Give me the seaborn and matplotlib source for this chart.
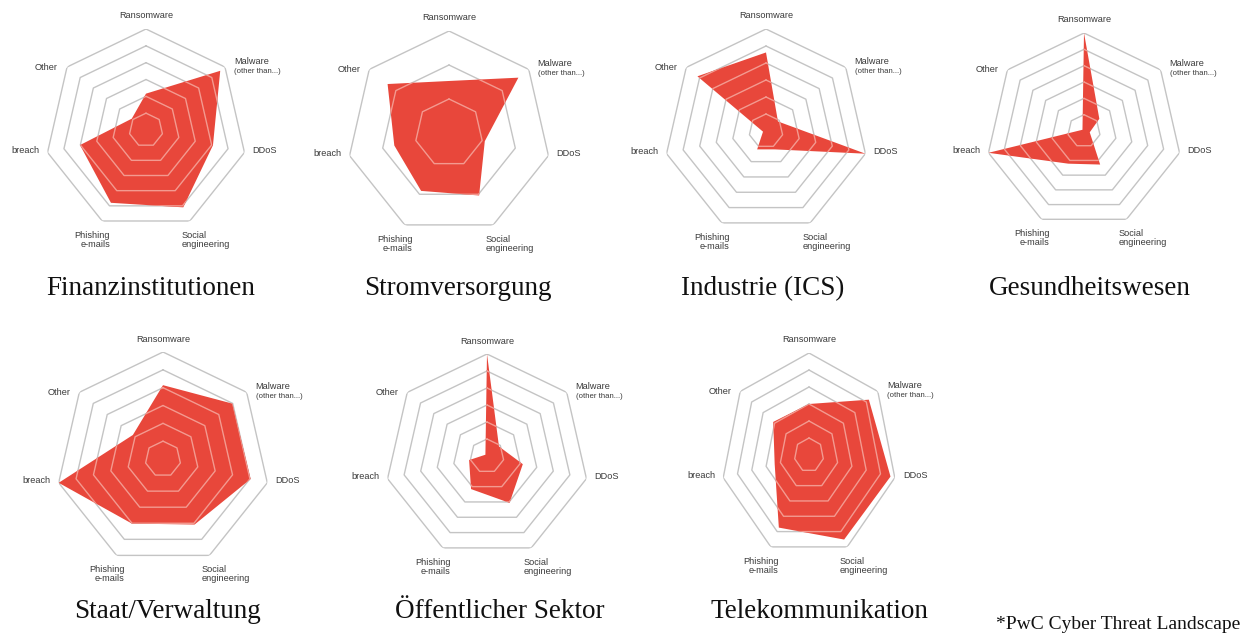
import matplotlib
matplotlib.use("Agg")
import matplotlib.pyplot as plt
import numpy as np
import seaborn as sns

# axis order, clockwise from the top
categories = ["Ransomware", "Malware", "DDoS", "Social\nengineering",
              "Phishing\ne-mails", "breach", "Other"]

# values, as fraction of the outer ring
finanz = [0.36, 0.94, 0.68, 0.85, 0.80, 0.67, 0.18]
strom = [0.51, 0.87, 0.36, 0.68, 0.63, 0.55, 0.77]
industrie = [0.77, 0.15, 1.00, 0.20, 0.20, 0.03, 0.86]
gesundheit = [1.00, 0.20, 0.06, 0.38, 0.37, 1.00, 0.02]
staat = [0.69, 0.83, 0.84, 0.68, 0.67, 1.00, 0.36]
oeffentlich = [1.00, 0.15, 0.36, 0.51, 0.36, 0.18, 0.02]
telekom = [0.50, 0.87, 0.95, 0.92, 0.79, 0.40, 0.52]

titles = ["Finanzinstitutionen", "Stromversorgung", "Industrie (ICS)",
          "Gesundheitswesen", "Staat/Verwaltung", "Öffentlicher Sektor",
          "Telekommunikation"]
n_rings = [6, 3, 6, 6, 6, 6, 6]

sns.set_theme(style="white")
plt.rcParams['font.family'] = ['Liberation Sans', 'DejaVu Sans']

W, H = 1256, 634
fig = plt.figure(figsize=(W / 100, H / 100), dpi=100)

RED = '#e8473b'
GRID = '#c4c4c4'
GRID_IN = '#f39a90'
LABEL = '#3a3a3a'

# (center x, center y, radius x, radius y) in pixels, title x, title baseline
panels = [
    (146, 130, 101, 101, 151, 295),
    (449, 133, 102, 102, 458, 295),
    (766, 131, 102, 102, 763, 295),
    (1084, 131, 98, 98, 1090, 295),
    (163, 459, 107, 107, 168, 618),
    (487, 456, 102, 102, 500, 618),
    (809, 455, 88, 102, 819, 618),
]
series = [finanz, strom, industrie, gesundheit, staat, oeffentlich, telekom]

theta = np.arange(7) * 2 * np.pi / 7
theta_closed = np.append(theta, 2 * np.pi)

# label offsets in pixels from the outer vertex
label_style = {
    "Ransomware": ((0, 13), 'center', 'center'),
    "DDoS": ((8, 2), 'left', 'center'),
    "Social\nengineering": ((-8, -10), 'left', 'top'),
    "Phishing\ne-mails": ((8, -10), 'right', 'top'),
    "breach": ((-8, 2), 'right', 'center'),
    "Other": ((-9, 0), 'right', 'center'),
}


def radar(ax, values, rings):
    ax.set_theta_offset(np.pi / 2)
    ax.set_theta_direction(-1)
    for k in range(1, rings + 1):
        r = k / rings
        sns.lineplot(x=theta_closed, y=[r] * 8, sort=False, ax=ax,
                     color=GRID, lw=1.0, zorder=1)
    vals = np.append(values, values[0])
    poly = ax.fill(theta_closed, vals, color=RED, lw=0, zorder=2)[0]
    for k in range(1, rings):
        r = k / rings
        ln, = ax.plot(theta_closed, [r] * 8, color=GRID_IN, lw=1.0, zorder=3)
        ln.set_clip_path(poly)
    ax.set_ylim(0, 1)
    ax.set_axis_off()

    for t, cat in zip(theta, categories):
        if cat == "Malware":
            ax.annotate("Malware", xy=(t, 1), xytext=(9, 6),
                        textcoords='offset pixels', ha='left', va='center',
                        fontsize=6.6, color=LABEL)
            ax.annotate("(other than...)", xy=(t, 1), xytext=(9, -4),
                        textcoords='offset pixels', ha='left', va='center',
                        fontsize=5.6, color=LABEL)
            continue
        off, ha, va = label_style[cat]
        ax.annotate(cat, xy=(t, 1), xytext=off, textcoords='offset pixels',
                    ha=ha, va=va, fontsize=6.6, color=LABEL, linespacing=1.0)


for (cx, cy, rx, ry, tx, ty), vals, rings, title in zip(panels, series, n_rings, titles):
    ax = fig.add_axes([(cx - rx) / W, (H - cy - ry) / H, 2 * rx / W, 2 * ry / H],
                      projection='polar')
    radar(ax, vals, rings)
    ax.set_aspect('auto')
    fig.text(tx / W, 1 - ty / H, title, ha='center', va='baseline',
             fontsize=19.5, family='Liberation Serif', color='#111111')

fig.text(1240 / W, 1 - 629 / H, "*PwC Cyber Threat Landscape", ha='right',
         va='baseline', fontsize=14, family='Liberation Serif', color='#111111')

fig.savefig("out.png", dpi=100)
